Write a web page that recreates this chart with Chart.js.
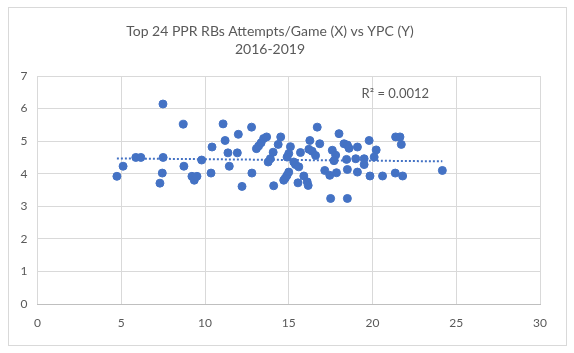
<!DOCTYPE html>
<html>
<head>
<meta charset="utf-8">
<script src="https://cdn.jsdelivr.net/npm/chart.js@4/dist/chart.umd.min.js"></script>
<style>
  body { margin: 0; background: #fff; }
  #wrap { position: relative; width: 574px; height: 353px; }
  #frame { position: absolute; left: 8px; top: 7px; width: 557px; height: 337px; border: 1px solid #d9d9d9; pointer-events: none; }
</style>
</head>
<body>
<div id="wrap">
  <canvas id="scatter-chart" width="574" height="353"></canvas>
  <div id="frame"></div>
</div>
<script>
// Attempts per game (X) and yards per carry (Y)
const attempts = [
    4.74, 5.11, 5.87, 6.17, 7.49, 7.5, 7.45, 7.31, 8.7, 8.74, 9.22, 9.36, 9.52, 9.8,
    10.36, 10.42, 11.08, 11.2, 11.37, 11.45, 11.93, 11.99, 12.21, 12.78, 12.8,
    13.07, 13.2, 13.35, 13.5, 13.68, 13.77, 13.9, 14.07, 14.1, 14.37, 14.52,
    14.7, 14.8, 14.9, 15.0, 15.1, 15.0, 14.9, 15.3, 15.4, 15.6, 15.7, 15.55, 15.9, 16.1, 16.16,
    16.26, 16.7, 16.2, 16.4, 16.6, 16.85, 17.15, 17.45, 17.6, 17.8, 17.7, 17.85, 18.0,
    18.3, 18.5, 18.6, 18.45, 18.5, 19.0, 19.1, 19.1, 19.5, 19.5, 19.8, 19.85, 20.1, 20.22,
    17.5, 18.5,
    20.6, 21.38, 21.64, 21.72, 21.36, 21.8, 24.17
];
const ypc = [
    3.92, 4.23, 4.50, 4.50, 6.14, 4.50, 4.02, 3.71, 5.52, 4.23, 3.92, 3.80, 3.92, 4.42,
    4.02, 4.82, 5.53, 5.02, 4.64, 4.23, 4.64, 5.21, 3.61, 5.43, 4.02,
    4.77, 4.85, 4.95, 5.08, 5.13, 4.36, 4.46, 4.66, 3.63, 4.90, 5.13,
    3.80, 3.87, 3.95, 4.05, 4.83, 4.62, 4.51, 4.36, 4.28, 4.21, 4.65, 3.72, 3.93, 3.75, 3.64,
    5.02, 5.43, 4.75, 4.69, 4.56, 4.92, 4.10, 3.95, 4.72, 4.57, 4.40, 4.03, 5.23,
    4.92, 4.88, 4.78, 4.44, 4.13, 4.46, 4.82, 4.05, 4.46, 4.28, 5.02, 3.93, 4.51, 4.73,
    3.24, 3.24,
    3.93, 5.13, 5.13, 4.90, 4.02, 3.93, 4.10
];

// linear trendline ends as drawn in the picture
const trendX = [4.74, 24.17];
const trendY = [4.47, 4.38];
const rSquared = 'R² = 0.0012';

const xTicks = [0, 5, 10, 15, 20, 25, 30];
const yTicks = [0, 1, 2, 3, 4, 5, 6, 7];

const blue = '#4472c4';
const textGray = '#595959';
const fontName = 'Lato, "Open Sans", sans-serif';

const points = attempts.map((x, i) => ({ x: x, y: ypc[i] }));
const trend = trendX.map((x, i) => ({ x: x, y: trendY[i] }));

// draws the R² text next to the trendline
const rLabel = {
    id: 'rLabel',
    afterDatasetsDraw(chart) {
        const c = chart.ctx;
        const x = chart.scales.x.getPixelForValue(19.35);
        const y = chart.scales.y.getPixelForValue(6.44);
        c.save();
        c.font = '13px ' + fontName;
        c.fillStyle = textGray;
        c.textAlign = 'left';
        c.textBaseline = 'middle';
        c.fillText(rSquared, x, y);
        c.restore();
    }
};

const ctx = document.getElementById('scatter-chart').getContext('2d');
const myChart = new Chart(ctx, {
    type: 'scatter',
    data: {
        datasets: [{
            label: 'YPC',
            data: points,
            backgroundColor: blue,
            borderColor: blue,
            pointRadius: 4,
            pointHoverRadius: 4,
            order: 1
        }, {
            label: 'Trend',
            type: 'line',
            data: trend,
            borderColor: blue,
            borderWidth: 2,
            borderDash: [2, 2],
            pointRadius: 0,
            fill: false,
            order: 2
        }]
    },
    options: {
        responsive: false,
        animation: false,
        layout: { padding: { left: 0, right: 34, top: 0, bottom: 0 } },
        plugins: {
            legend: { display: false },
            tooltip: { enabled: false },
            title: {
                display: true,
                text: ['Top 24 PPR RBs Attempts/Game (X) vs YPC (Y)', '2016-2019'],
                color: textGray,
                font: { family: fontName, size: 14, weight: 'normal', lineHeight: 1.25 },
                padding: { top: 23, bottom: 18 }
            }
        },
        scales: {
            x: {
                type: 'linear',
                min: 0,
                max: 30,
                afterBuildTicks: scale => { scale.ticks = xTicks.map(v => ({ value: v })); },
                afterFit: scale => { scale.height = 49; },
                grid: { color: '#d9d9d9', drawTicks: false },
                border: { color: '#bfbfbf' },
                ticks: { color: textGray, font: { family: fontName, size: 12 }, padding: 12 }
            },
            y: {
                type: 'linear',
                min: 0,
                max: 7,
                afterBuildTicks: scale => { scale.ticks = yTicks.map(v => ({ value: v })); },
                afterFit: scale => { scale.width = 37.5; },
                grid: { color: '#d9d9d9', drawTicks: false },
                border: { display: false },
                ticks: { color: textGray, font: { family: fontName, size: 12 }, padding: 10 }
            }
        }
    },
    plugins: [rLabel]
});
</script>
</body>
</html>
